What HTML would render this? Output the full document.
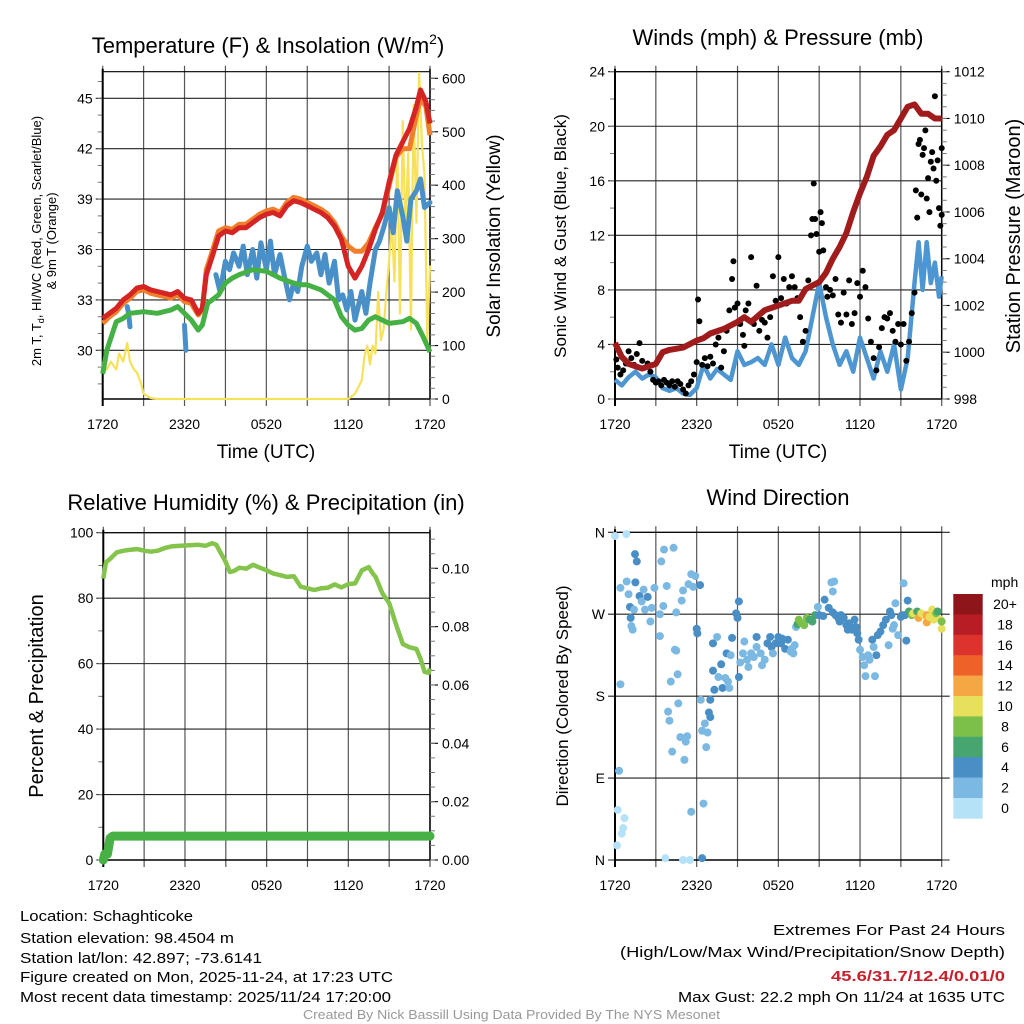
<!DOCTYPE html>
<html><head><meta charset="utf-8">
<style>
html,body{margin:0;padding:0;background:#fff;}
svg{display:block;font-family:"Liberation Sans",sans-serif;}
.narrow{font-family:"Liberation Sans Narrow","Liberation Sans",sans-serif;}
</style></head>
<body>
<svg id="fig" width="1024" height="1024" viewBox="0 0 1024 1024" xmlns="http://www.w3.org/2000/svg">
<g id="layer"></g>
<text x="268" y="53" font-size="22" text-anchor="middle">Temperature (F) &amp; Insolation (W/m<tspan dy="-9" font-size="14">2</tspan><tspan dy="9">)</tspan></text>
<text x="778" y="45" font-size="22" text-anchor="middle">Winds (mph) &amp; Pressure (mb)</text>
<text x="266" y="510" font-size="22" text-anchor="middle">Relative Humidity (%) &amp; Precipitation (in)</text>
<text x="778" y="505" font-size="22" text-anchor="middle">Wind Direction</text>
<text x="266" y="458" font-size="19" text-anchor="middle">Time (UTC)</text>
<text x="778" y="458" font-size="19" text-anchor="middle">Time (UTC)</text>
<text transform="translate(41,241) rotate(-90)" font-size="13" text-anchor="middle">2m T, T<tspan dy="3" font-size="9">d</tspan><tspan dy="-3">, HI/WC (Red, Green, Scarlet/Blue)</tspan></text>
<text transform="translate(56,241) rotate(-90)" font-size="13" text-anchor="middle">&amp; 9m T (Orange)</text>
<text transform="translate(500,236) rotate(-90)" font-size="19" text-anchor="middle">Solar Insolation (Yellow)</text>
<text transform="translate(566,236) rotate(-90)" font-size="17" text-anchor="middle">Sonic Wind &amp; Gust (Blue, Black)</text>
<text transform="translate(1020,236) rotate(-90)" font-size="20" text-anchor="middle">Station Pressure (Maroon)</text>
<text transform="translate(43,696) rotate(-90)" font-size="20" text-anchor="middle">Percent &amp; Precipitation</text>
<text transform="translate(568,696) rotate(-90)" font-size="17" text-anchor="middle">Direction (Colored By Speed)</text>
<text x="991" y="587" font-size="14">mph</text>
<g class="narrow" font-size="15">
<text x="20" y="921" textLength="173" lengthAdjust="spacingAndGlyphs">Location: Schaghticoke</text>
<text x="20" y="943" textLength="214" lengthAdjust="spacingAndGlyphs">Station elevation: 98.4504 m</text>
<text x="20" y="963" textLength="242" lengthAdjust="spacingAndGlyphs">Station lat/lon: 42.897; -73.6141</text>
<text x="20" y="982" textLength="373" lengthAdjust="spacingAndGlyphs">Figure created on Mon, 2025-11-24, at 17:23 UTC</text>
<text x="20" y="1002" textLength="371" lengthAdjust="spacingAndGlyphs">Most recent data timestamp: 2025/11/24 17:20:00</text>
<text x="773" y="935" textLength="232" lengthAdjust="spacingAndGlyphs">Extremes For Past 24 Hours</text>
<text x="620" y="957" textLength="385" lengthAdjust="spacingAndGlyphs">(High/Low/Max Wind/Precipitation/Snow Depth)</text>
<text x="831" y="981" textLength="174" lengthAdjust="spacingAndGlyphs" fill="#c8202a" font-weight="bold">45.6/31.7/12.4/0.01/0</text>
<text x="678" y="1002" textLength="327" lengthAdjust="spacingAndGlyphs">Max Gust: 22.2 mph On 11/24 at 1635 UTC</text>
<text x="303" y="1019" font-size="13" textLength="417" lengthAdjust="spacingAndGlyphs" fill="#999">Created By Nick Bassill Using Data Provided By The NYS Mesonet</text>
</g>
</svg>
<script>
// ---- data (hours since 1720 UTC) ----
const xTickLabels = ["1720","2320","0520","1120","1720"];
const tempHours = [0,0.5,1,1.5,2,2.5,3,3.5,4,4.5,5,5.5,6,6.5,7,7.3,7.6,8,8.5,9,9.5,10,10.5,11,11.5,12,12.5,13,13.5,14,14.5,15,15.5,16,16.5,17,17.5,18,18.5,19,19.5,20,20.5,21,21.5,22,22.5,23,23.3,23.7,24];
const tempRed = [31.9,32.2,32.5,33.0,33.3,33.7,33.8,33.6,33.5,33.4,33.3,33.5,33.1,33.0,32.2,32.5,34.5,35.5,36.8,37.1,37.0,37.3,37.3,37.6,37.9,38.1,38.2,38.0,38.6,38.9,38.8,38.6,38.4,38.2,37.9,37.4,36.6,35.0,34.3,35.0,36.0,37.2,38.2,40.0,41.6,42.4,43.2,44.5,45.5,44.8,43.5];
const tempOrange = [31.6,32.0,32.3,32.8,33.1,33.5,33.6,33.4,33.3,33.2,33.1,33.3,32.9,32.8,32.1,32.4,34.8,35.8,37.1,37.3,37.2,37.5,37.5,37.8,38.1,38.3,38.4,38.2,38.8,39.1,39.0,38.8,38.6,38.4,38.1,37.6,36.8,36.2,35.9,35.9,36.4,37.3,38.1,39.8,41.5,42.0,42.0,44.0,45.0,44.5,42.8];
const dewHours = [0,0.3,1,1.5,2,3,4,5,5.5,6,6.5,7,7.3,7.7,8.5,9,9.5,10,11,12,12.5,13,14,14.5,15,16,17,17.5,18,18.5,19,19.5,20,21,22,22.5,23,23.5,24];
const dewGreen = [28.6,30.0,31.7,31.9,32.2,32.3,32.2,32.4,32.6,32.2,31.8,31.2,31.5,32.8,33.3,34.0,34.3,34.5,34.8,34.7,34.5,34.3,34.0,33.9,33.9,33.6,33.0,32.0,31.5,31.2,31.3,31.8,32.0,31.6,31.7,31.9,31.6,30.8,29.9];
const hiHours = [1.8,1.9,2.0,null,6.0,6.1,null,8.3,8.6,9,9.3,9.6,10,10.3,10.6,11,11.3,11.6,12,12.3,12.6,13,13.3,13.7,14,14.3,14.6,15,15.3,15.7,16,16.3,16.6,17,17.3,17.6,17.9,18.2,18.5,19,19.3,19.6,20,20.3,20.6,21,21.3,21.6,22,22.3,22.6,23,23.3,23.6,24];
const hiBlue = [32.6,32.2,31.4,null,31.5,30.0,null,34.5,33.5,35.3,34.8,35.8,35.0,36.2,34.5,36.0,34.3,36.4,34.8,36.5,34.5,35.7,34.5,33.0,34.0,33.5,35.0,36.2,35.3,35.8,34.5,35.7,34.0,35.3,33.0,33.3,32.4,33.5,31.8,33.5,32.2,34.0,36.0,36.5,37.3,38.5,37.0,39.5,38.0,36.5,39.0,39.5,40.2,38.5,38.8];
const solarHours = [0,0.3,0.6,1,1.2,1.5,1.8,2,2.3,2.5,2.8,3,3.5,4,18,18.5,19,19.2,19.4,19.6,19.8,20,20.2,20.4,20.6,20.8,21,21.2,21.4,21.6,21.8,22,22.2,22.4,22.6,22.8,23,23.2,23.4,23.6,23.8,24];
const solarValues = [70,55,70,55,85,70,105,70,55,50,30,10,2,0,0,10,35,80,100,65,100,85,200,110,130,200,260,330,220,470,160,520,310,460,130,550,330,610,480,420,110,250];

const windHours = [0,0.5,1,1.5,2,2.5,3,3.5,4,4.5,5,5.5,6,6.5,7,7.5,8,8.5,9,9.5,10,10.5,11,11.5,12,12.5,13,13.5,14,14.5,15,15.5,16,16.5,17,17.5,18,18.5,19,19.5,20,20.5,21,21.5,22,22.3,22.6,22.9,23.2,23.5,23.8,24];
const windSpeed = [1.4,1.0,1.6,2.0,1.5,1.8,1.6,0.8,0.6,0.8,0.4,0.3,0.8,2.5,1.5,2.2,1.8,1.4,3.5,2.5,2.7,3.0,2.5,4.0,2.5,4.5,3.0,2.5,3.5,6.0,8.5,6.0,4.0,2.5,3.5,2.0,4.5,3.0,1.5,3.5,2.0,4.0,0.7,3.0,8.5,11.5,8.0,11.5,8.5,10.0,7.5,9.0];
const gustHours = [0.1,0.2,0.4,0.6,0.8,1.0,1.2,1.4,1.6,1.8,2.0,2.2,2.4,2.6,2.8,3.0,3.2,3.4,3.6,3.8,4.0,4.2,4.4,4.6,4.8,5.0,5.2,5.4,5.6,5.8,6.0,6.1,6.2,6.4,6.6,6.8,7.0,7.2,7.4,7.6,7.8,8.0,8.2,8.4,8.6,8.7,8.8,9.0,9.2,9.4,9.5,9.6,9.8,10.0,10.2,10.4,10.6,10.8,11.0,11.2,11.4,11.6,11.8,12.0,12.2,12.4,12.6,12.8,13.0,13.2,13.4,13.6,13.8,14.0,14.2,14.4,14.5,14.6,14.7,14.8,15.0,15.1,15.2,15.3,15.5,15.6,15.8,16.0,16.2,16.4,16.6,16.8,17.0,17.2,17.4,17.6,17.8,18.0,18.2,18.4,18.6,18.8,19.0,19.2,19.4,19.6,19.8,20.0,20.2,20.4,20.6,20.8,21.0,21.2,21.4,21.6,21.8,22.0,22.1,22.2,22.3,22.4,22.5,22.6,22.7,22.8,22.9,23.0,23.1,23.2,23.3,23.4,23.5,23.6,23.7,23.8,23.9,24.0,24.0];
const gustSpeed = [2.9,2.3,1.8,2.1,2.6,3.5,3.0,2.5,3.3,4.1,2.8,2.3,2.6,2.0,1.4,1.2,1.3,1.0,1.4,1.2,1.0,1.3,0.9,1.3,1.1,0.7,0.4,1.0,1.3,1.8,2.7,7.3,5.7,2.5,3.0,2.4,3.1,2.6,4.0,4.5,2.3,3.5,5.0,6.5,8.8,10.1,6.7,7.0,5.5,4.7,3.9,6.5,7.0,10.4,5.5,8.3,5.0,5.8,5.6,4.5,6.0,9.0,7.2,10.4,7.4,8.8,7.0,8.2,9.0,8.2,7.4,6.0,4.2,5.0,8.7,12.0,13.2,15.8,13.2,12.1,10.8,13.7,12.9,10.9,8.2,7.5,8.0,7.6,8.8,6.2,5.6,7.8,6.2,8.7,5.5,6.3,8.5,7.5,9.4,8.2,5.9,4.2,3.0,2.1,3.8,5.2,6.0,5.9,6.3,5.0,4.2,5.5,4.0,5.5,2.8,4.2,6.3,7.8,15.3,13.3,18.7,19.0,15.0,17.9,18.4,19.7,14.7,16.2,13.7,17.4,18.1,16.9,22.2,16.0,17.5,14.0,12.7,18.4,13.5];
const presHours = [0,0.5,1,2,3,3.5,4,5,6,6.5,7,8,9,9.5,10,11,12,13,13.5,14,15,15.5,16,16.5,17,17.5,18,18.5,19,19.5,20,20.5,21,21.5,22,22.5,23,23.5,24];
const presValues = [1000.4,999.8,999.5,999.3,999.5,1000.0,1000.1,1000.2,1000.5,1000.6,1000.8,1001.0,1001.3,1001.5,1001.3,1001.8,1002.0,1002.2,1002.2,1002.7,1003.0,1003.4,1004.0,1004.5,1005.1,1006.0,1006.8,1007.5,1008.4,1008.8,1009.3,1009.5,1010.0,1010.5,1010.6,1010.2,1010.2,1010.0,1010.0];

const rhHours = [0,0.2,0.5,1,1.5,2,2.5,3,3.5,4,4.5,5,6,7,7.5,8,8.3,8.6,9,9.3,9.6,10,10.5,11,11.5,12,12.5,13,13.5,14,14.5,15,15.5,16,16.5,17,17.5,18,18.5,19,19.5,19.8,20,20.5,21,21.5,22,22.5,23,23.3,23.6,23.9,24];
const rhValues = [86,91,92,94,94.5,94.8,95,94.5,94.2,94.5,95.3,95.8,96.1,96.3,96,96.8,96.3,94,91,88,88.3,89.3,89,90.2,89.3,88.5,87.5,87,86.5,86.7,83.5,83,82.5,83,83.2,84.2,83.3,84.3,84.5,88.5,89.5,87.5,86.5,81.5,78.5,72,66,65,64.5,61.5,57.5,57.2,58.5];
const precipHours = [0,0.1,0.3,0.5,0.7,24];
const precipValues = [0,0.002,0.002,0.0075,0.0082,0.0082];

const dirHours = [0,0.83,0.4,0.3,0.2,0.7,0.6,0.5,0.15,1.47,1.6,0.4,0.86,1.0,1.5,1.8,1.1,1.4,1.15,1.2,1.3,1.96,2.1,2.4,2.7,2.2,2.6,2.9,3.3,3.3,3.4,3.6,3.8,3.55,4.3,4.5,4.9,5.0,5.4,5.6,5.9,5.75,6.25,6.0,6.05,4.4,4.5,4.6,4.1,4.65,3.9,4.0,4.8,5.3,5.2,4.2,5.1,5.6,6.5,3.7,5.0,5.5,6.4,6.3,7.0,6.9,7.0,6.6,6.4,6.8,6.7,7.3,7.2,7.2,7.5,7.8,7.6,7.9,8.2,8.3,8.1,8.4,8.5,8.6,9.1,9.1,8.9,9.0,9.2,9.4,9.5,9.7,9.8,10.0,10.2,10.4,10.4,10.7,10.8,11.0,11.2,11.4,11.5,11.6,11.8,12.0,12.2,12.3,12.5,12.7,12.9,13.0,13.2,13.1,13.3,13.4,13.5,13.7,13.9,14.1,14.3,14.5,14.7,14.9,15.0,15.3,15.4,15.7,16.0,16.0,16.1,15.9,16.2,16.4,16.5,16.6,16.8,17.0,17.1,17.2,17.4,17.6,17.7,17.8,17.9,18.0,18.2,18.3,18.4,18.6,18.7,18.9,19.0,19.2,19.1,19.3,19.5,19.7,19.9,20.2,20.3,20.1,20.4,20.6,20.5,20.8,21.0,21.2,21.1,21.3,21.4,21.5,21.6,21.8,21.9,22.2,22.3,22.5,22.7,22.9,22.9,23.1,23.3,23.4,23.6,23.7,23.9,24.0,24.0];
const dirDegrees = [356,358,193,98,55,46,35,29,16,336,328,299,306,292,305,290,278,275,266,257,253,284,297,289,277,275,262,299,270,246,328,341,301,279,343,272,285,296,303,314,312,300,302,254,249,231,230,204,196,172,163,153,135,136,130,119,110,53,62,2,0,0,2,176,176,162,157,150,142,140,124,187,208,238,245,215,201,189,227,196,200,189,225,244,201,284,271,266,217,227,240,220,212,227,223,245,234,227,214,220,238,245,234,227,238,245,238,243,232,242,229,232,236,227,256,259,264,260,258,266,264,262,269,278,269,268,286,277,272,295,306,305,269,266,262,269,266,258,253,260,253,264,256,249,242,231,223,214,202,225,220,242,234,225,202,247,251,258,264,273,269,236,254,282,258,247,267,304,269,269,241,285,273,269,271,273,266,271,269,261,269,267,275,264,271,273,264,254,262];
const dirSpeeds = [0.5,0.5,1,1,0.5,0.5,0.5,0.5,0.5,3,3,1,1,2,3,3,3,2,3,1,1,2,1,3,2,2,1,1,2,1,1,1,1,1,1,1,1,1,1,1,1,1,4,3,4,1,1,1,1,1,1,1,1,1,1,1,1,1,1,0.5,0.5,0.5,3,1,3,3,3,1,1,1,1,3,3,3,1,3,1,3,3,2,2,2,2,4,4,4,3,3,2,2,2,2,2,2,2,4,2,2,2,2,4,4,4,2,4,4,4,4,4,4,2,2,2,2,2,6,8,8,8,8,6,6,6,2,4,4,4,4,4,2,2,2,4,4,4,3,3,3,3,4,4,4,4,4,3,2,2,2,2,2,2,4,2,4,1,4,4,4,3,3,3,1,2,1,2,2,4,1,3,4,3,4,6,8,10,6,12,10,10,12,12,10,10,10,8,6,10,10,8];
const speedBins = ["0","2","4","6","8","10","12","14","16","18","20+"];
const speedColors = ["#b6e2f7","#7bb9e3","#4a8ec6","#47a56f","#7cc04a","#e6e05a","#f5a744","#ee6229","#dc342c","#b81c25","#8e1519"];

// ---- helpers ----
const NS = "http://www.w3.org/2000/svg";
const layer = document.getElementById("layer");
function mk(tag, attrs, parent){
  const e = document.createElementNS(NS, tag);
  for (const k in attrs) e.setAttribute(k, attrs[k]);
  (parent||layer).appendChild(e);
  return e;
}
function scale(d0,d1,r0,r1){ return v => r0 + (v-d0)/(d1-d0)*(r1-r0); }
function pathFrom(xs, ys, fx, fy){
  let d = "", pen = false;
  for (let i=0;i<xs.length;i++){
    if (xs[i]===null || ys[i]===null){ pen=false; continue; }
    d += (pen?"L":"M") + fx(xs[i]).toFixed(1) + "," + fy(ys[i]).toFixed(1);
    pen = true;
  }
  return d;
}

function frame(p, name){
  const g = mk("g", {});
  
  
  // vertical grid
  for (let h=0; h<=24; h+=3){
    const x = p.fx(h);
    const gl = mk("line", {x1:x, y1:p.y0-6, x2:x, y2:p.y1+7, stroke:"#555", "stroke-width":1.2}, g);
    
    
  }
  for (let i=0;i<xTickLabels.length;i++){
    const t = mk("text", {x:p.fx(i*6), y:p.y1+30, "font-size":14, "text-anchor":"middle"}, g);
    t.textContent = xTickLabels[i];
    
    
  }
  // horizontal grid + left ticks
  p.leftTicks.forEach(v => {
    const y = p.fy(v.v);
    const hl = mk("line", {x1:p.x0-7, y1:y, x2:p.x1+(p.rightExt||0), y2:y, stroke:"#222", "stroke-width":1.1}, g);
    
    
    const t = mk("text", {x:p.x0-10, y:y+5, "font-size":14, "text-anchor":"end"}, g);
    t.textContent = v.l;
    
    
  });
  (p.leftMinor||[]).forEach(v => {
    const y = p.fy(v);
    mk("line", {x1:p.x0-5, y1:y, x2:p.x0, y2:y, stroke:"#777", "stroke-width":1}, g);
  });
  if (p.rightTicks){
    mk("line", {x1:p.x1, y1:p.y0-3, x2:p.x1, y2:p.y1, stroke:"#000", "stroke-width":1.5}, g);
    p.rightTicks.forEach(v => {
      const y = p.fr(v.v);
      mk("line", {x1:p.x1, y1:y, x2:p.x1+8, y2:y, stroke:"#000", "stroke-width":1.1}, g);
      const t = mk("text", {x:p.x1+12, y:y+5, "font-size":14}, g);
      t.textContent = v.l;
      
      
    });
    (p.rightMinor||[]).forEach(v => {
      const y = p.fr(v);
      mk("line", {x1:p.x1, y1:y, x2:p.x1+5, y2:y, stroke:"#777", "stroke-width":1}, g);
    });
  }
  // axes borders
  mk("line", {x1:p.x0, y1:p.y0-3, x2:p.x0, y2:p.y1+7, stroke:"#000", "stroke-width":2}, g);
  mk("line", {x1:p.x0, y1:p.y1, x2:p.x1, y2:p.y1, stroke:"#000", "stroke-width":1.5}, g);
  mk("line", {x1:p.x0, y1:p.y0, x2:p.x1, y2:p.y0, stroke:"#000", "stroke-width":1.2}, g);
}
function range(a,b,s){ const r=[]; for(let v=a; v<=b+1e-9; v+=s) r.push(+v.toFixed(4)); return r; }

// ---- Panel 1: temperature ----
const P1 = {x0:102.7, x1:430, y0:71.7, y1:399};
P1.fx = scale(0,24,P1.x0,P1.x1);
P1.fy = scale(30,45,350.3,98.3);
P1.fr = scale(0,600,399,78.3);
P1.leftTicks = [30,33,36,39,42,45].map(v=>({v:v,l:String(v)}));
P1.leftMinor = range(28,46,1);
P1.rightTicks = [0,100,200,300,400,500,600].map(v=>({v:v,l:String(v)}));
P1.rightMinor = range(0,610,20);
frame(P1, "temperature");
const sol = mk("path", {d:pathFrom(solarHours, solarValues, P1.fx, P1.fr), fill:"none", stroke:"#f7e15a", "stroke-width":2.2, "stroke-linejoin":"round"});


const tOr = mk("path", {d:pathFrom(tempHours, tempOrange, P1.fx, P1.fy), fill:"none", stroke:"#f07f2c", "stroke-width":5, "stroke-linejoin":"round"});


const tRed = mk("path", {d:pathFrom(tempHours, tempRed, P1.fx, P1.fy), fill:"none", stroke:"#d42424", "stroke-width":5, "stroke-linejoin":"round"});


const tBl = mk("path", {d:pathFrom(hiHours, hiBlue, P1.fx, P1.fy), fill:"none", stroke:"#4a90c8", "stroke-width":5, "stroke-linejoin":"round", "stroke-linecap":"round"});


const tGr = mk("path", {d:pathFrom(dewHours, dewGreen, P1.fx, P1.fy), fill:"none", stroke:"#45b044", "stroke-width":5, "stroke-linejoin":"round"});



// ---- Panel 2: winds ----
const P2 = {x0:615, x1:941.7, y0:71.7, y1:399};
P2.fx = scale(0,24,P2.x0,P2.x1);
P2.fy = scale(0,24,399,71.7);
P2.fr = scale(998,1012,399,71.7);
P2.leftTicks = [0,4,8,12,16,20,24].map(v=>({v:v,l:String(v)}));
P2.leftMinor = range(0,24,2);
P2.rightTicks = [998,1000,1002,1004,1006,1008,1010,1012].map(v=>({v:v,l:String(v)}));
P2.rightMinor = range(998,1012,0.5);
frame(P2, "winds");
const wl = mk("path", {d:pathFrom(windHours, windSpeed, P2.fx, P2.fy), fill:"none", stroke:"#4e96d2", "stroke-width":4.5, "stroke-linejoin":"round"});


for (let i=0;i<gustHours.length;i++){
  const c = mk("circle", {cx:P2.fx(gustHours[i]), cy:P2.fy(gustSpeed[i]), r:3, fill:"#000"});
  
  
}
const pl = mk("path", {d:pathFrom(presHours, presValues, P2.fx, P2.fr), fill:"none", stroke:"#a01c1c", "stroke-width":6, "stroke-linejoin":"round"});



// ---- Panel 3: humidity ----
const P3 = {x0:103.3, x1:430, y0:532.7, y1:860};
P3.fx = scale(0,24,P3.x0,P3.x1);
P3.fy = scale(0,100,860,532.7);
P3.fr = scale(0,0.1,860,568.3);
P3.leftTicks = [0,20,40,60,80,100].map(v=>({v:v,l:String(v)}));
P3.leftMinor = range(0,100,10);
P3.rightTicks = [0,0.02,0.04,0.06,0.08,0.10].map(v=>({v:v,l:v.toFixed(2)}));
P3.rightMinor = range(0,0.11,0.005);
frame(P3, "humidity");
const rh = mk("path", {d:pathFrom(rhHours, rhValues, P3.fx, P3.fy), fill:"none", stroke:"#84c44c", "stroke-width":4.5, "stroke-linejoin":"round"});


const pr = mk("path", {d:pathFrom(precipHours, precipValues, P3.fx, P3.fr), fill:"none", stroke:"#48b146", "stroke-width":9, "stroke-linejoin":"round", "stroke-linecap":"round"});



// ---- Panel 4: wind direction ----
const P4 = {x0:615, x1:941.7, y0:532.3, y1:860, rightExt:8};
P4.fx = scale(0,24,P4.x0,P4.x1);
P4.fy = scale(0,360,860,532.3);
P4.leftTicks = [{v:0,l:"N"},{v:90,l:"E"},{v:180,l:"S"},{v:270,l:"W"},{v:360,l:"N"}];
frame(P4, "wind-direction");
function binIndex(s){ return Math.min(10, Math.max(0, Math.floor((s+1)/2))); }
for (let i=0;i<dirHours.length;i++){
  const c = mk("circle", {cx:P4.fx(dirHours[i]), cy:P4.fy(dirDegrees[i]), r:4, fill:speedColors[binIndex(dirSpeeds[i])]});
  
  
}
// colorbar
const cb = mk("g", {});


const cbTop = 594, cbH = 20.4;
for (let i=0;i<speedBins.length;i++){
  const k = speedBins.length-1-i;
  const r = mk("rect", {x:953.3, y:cbTop+i*cbH, width:29.4, height:cbH+0.3, fill:speedColors[k]}, cb);
  
  
  const t = mk("text", {x:1005, y:cbTop+i*cbH+15, "font-size":14, "text-anchor":"middle"}, cb);
  t.textContent = speedBins[k];
  
  
}
</script>
</body></html>
